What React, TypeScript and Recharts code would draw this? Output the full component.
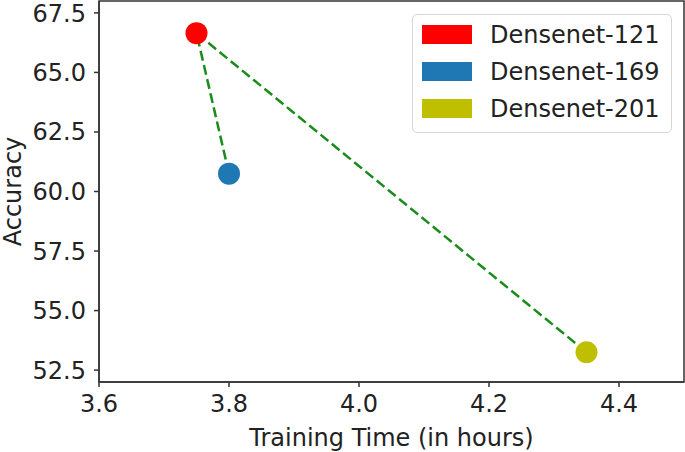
import {
  ComposedChart,
  Legend,
  Line,
  ReferenceArea,
  Scatter,
  XAxis,
  YAxis,
} from 'recharts';

const models = ['Densenet-121', 'Densenet-169', 'Densenet-201'];
const trainingHours = [3.75, 3.8, 4.35];
const accuracy = [66.65, 60.75, 53.25];
const modelColors = ['#ff0000', '#1f77b4', '#bfbf00'];
// dashed connector: 169 -> 121 -> 201
const connectorOrder = [1, 0, 2];
const xTicks = [3.6, 3.8, 4.0, 4.2, 4.4];
const yTicks = [52.5, 55.0, 57.5, 60.0, 62.5, 65.0, 67.5];

const FONT = '"DejaVu Sans", sans-serif';

const points = models.map((name, i) => ({
  name,
  time: trainingHours[i],
  acc: accuracy[i],
}));
const connector = connectorOrder.map((i) => points[i]);

function Dot(props: any) {
  const { cx, cy, fill } = props;
  if (cx == null || cy == null) return null;
  return <circle cx={cx} cy={cy} r={11} fill={fill} />;
}

function LegendBox({ payload }: any) {
  const items = (payload || []).filter((p: any) => p.type !== 'none');
  return (
    <div
      style={{
        width: 260,
        boxSizing: 'border-box',
        border: '1px solid #d6d6d6',
        borderRadius: 5,
        background: 'rgba(255,255,255,0.85)',
        padding: '1px 8px 5px 9px',
        fontFamily: FONT,
        fontSize: 24,
        color: '#222',
      }}
    >
      {items.map((item: any) => (
        <div
          key={item.value}
          style={{ height: 37, display: 'flex', alignItems: 'center' }}
        >
          <span
            style={{
              display: 'inline-block',
              width: 50,
              height: 19,
              background: item.color,
              marginRight: 18,
            }}
          />
          <span>{item.value}</span>
        </div>
      ))}
    </div>
  );
}

export default function App() {
  return (
    <div style={{ position: 'absolute', left: 0, top: 0, background: '#fff' }}>
      <ComposedChart
        width={685}
        height={452}
        margin={{ top: 1, right: 1, bottom: 0, left: 0 }}
      >
        <XAxis
          dataKey="time"
          type="number"
          domain={[3.6, 4.5]}
          ticks={xTicks}
          allowDataOverflow
          tickFormatter={(v: number) => v.toFixed(1)}
          height={70}
          tickSize={5}
          tickMargin={8}
          stroke="#333"
          strokeWidth={1.5}
          tick={{ fill: '#222', fontSize: 24, fontFamily: FONT }}
          label={{
            value: 'Training Time (in hours)',
            position: 'insideBottom',
            offset: 6,
            fill: '#222',
            fontSize: 24,
            fontFamily: FONT,
          }}
        />
        <YAxis
          dataKey="acc"
          type="number"
          domain={[52, 68]}
          ticks={yTicks}
          allowDataOverflow
          tickFormatter={(v: number) => v.toFixed(1)}
          width={99}
          tickSize={5}
          tickMargin={8}
          stroke="#333"
          strokeWidth={1.5}
          tick={{ fill: '#222', fontSize: 24, fontFamily: FONT }}
          label={{
            value: 'Accuracy',
            angle: -90,
            position: 'insideLeft',
            offset: 12,
            fill: '#222',
            fontSize: 24,
            fontFamily: FONT,
            style: { textAnchor: 'middle' },
          }}
        />
        <ReferenceArea
          x1={3.6}
          x2={4.5}
          y1={52}
          y2={68}
          fill="none"
          stroke="#333"
          strokeWidth={1.5}
        />
        <Line
          data={connector}
          dataKey="acc"
          stroke="#1a8c1a"
          strokeWidth={2.5}
          strokeDasharray="10 4.5"
          dot={false}
          activeDot={false}
          legendType="none"
          isAnimationActive={false}
        />
        {points.map((p, i) => (
          <Scatter
            key={p.name}
            name={p.name}
            data={[p]}
            dataKey="acc"
            fill={modelColors[i]}
            shape={<Dot />}
            legendType="rect"
            isAnimationActive={false}
          />
        ))}
        <Legend
          layout="vertical"
          align="center"
          verticalAlign="middle"
          content={<LegendBox />}
          wrapperStyle={{ position: 'absolute', left: 412, top: 14, width: 'auto' }}
        />
      </ComposedChart>
    </div>
  );
}
